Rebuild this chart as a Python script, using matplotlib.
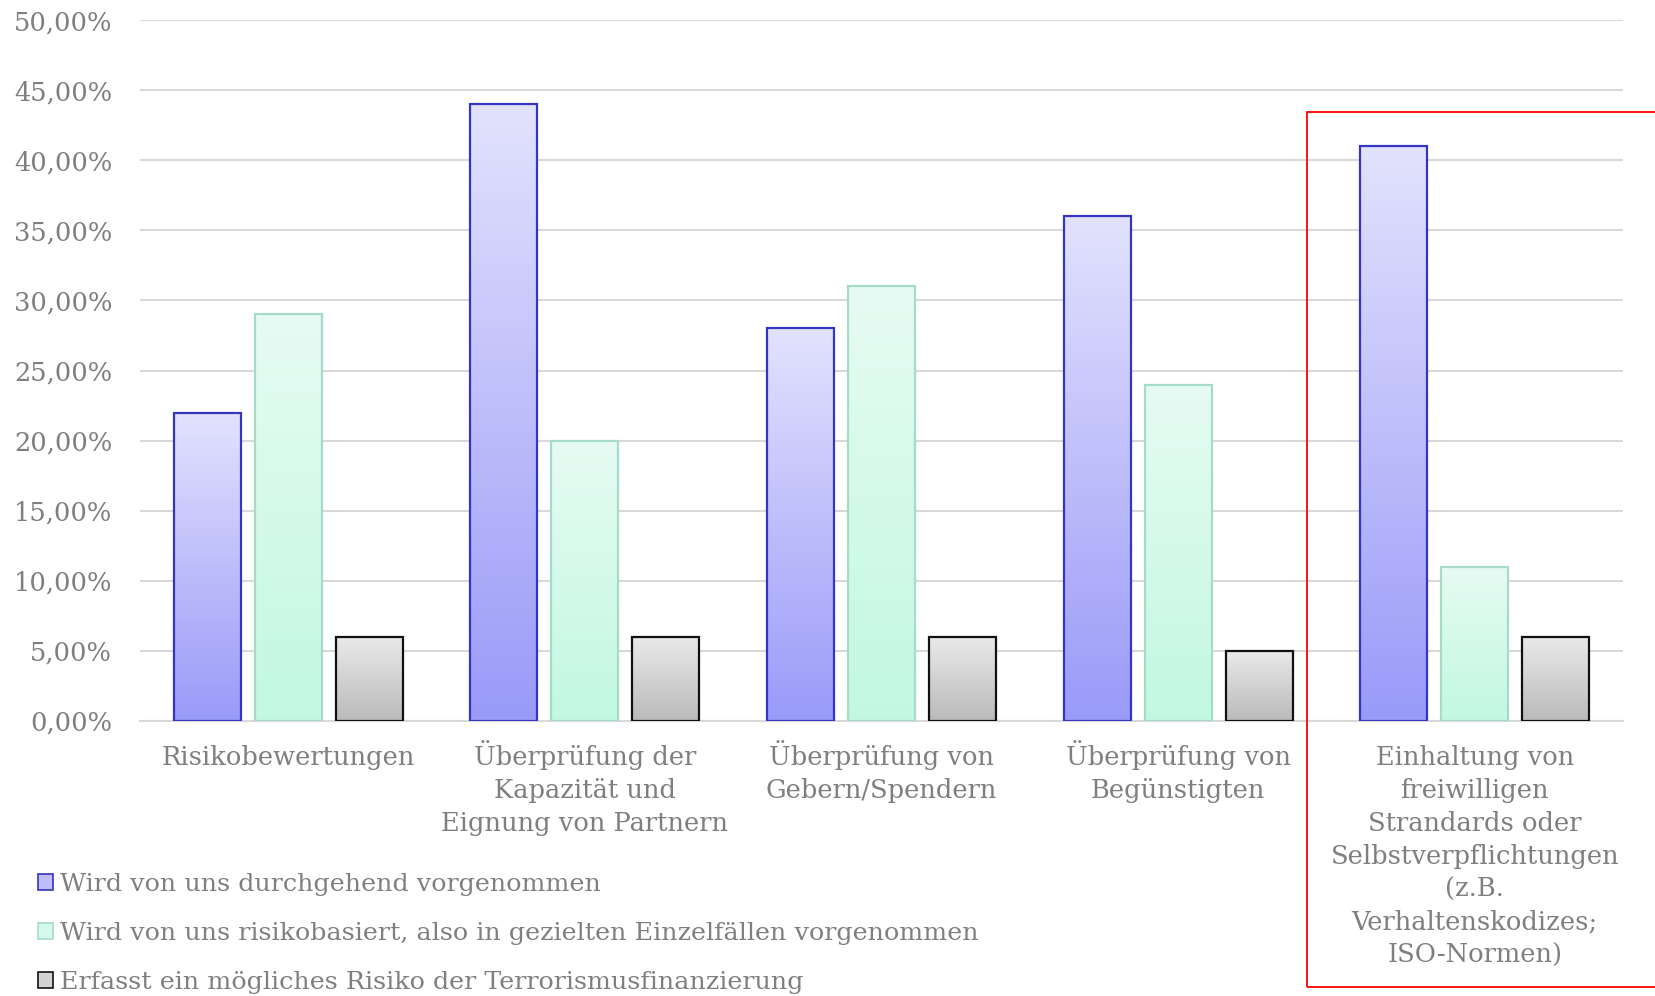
import numpy as np
import matplotlib.pyplot as plt
from matplotlib.colors import LinearSegmentedColormap, to_rgb
from matplotlib.patches import Rectangle, Patch

categories = [
    "Risikobewertungen",
    "Überprüfung der\nKapazität und\nEignung von Partnern",
    "Überprüfung von\nGebern/Spendern",
    "Überprüfung von\nBegünstigten",
    "Einhaltung von\nfreiwilligen\nStrandards oder\nSelbstverpflichtungen\n(z.B.\nVerhaltenskodizes;\nISO-Normen)",
]
durchgehend = [22, 44, 28, 36, 41]
risikobasiert = [29, 20, 31, 24, 11]
terror = [6, 6, 6, 5, 6]
series_names = [
    "Wird von uns durchgehend vorgenommen",
    "Wird von uns risikobasiert, also in gezielten Einzelfällen vorgenommen",
    "Erfasst ein mögliches Risiko der Terrorismusfinanzierung",
]
yticks = [0, 5, 10, 15, 20, 25, 30, 35, 40, 45, 50]

# (top colour, bottom colour, edge colour)
styles = [
    ("#e2e2fd", "#9a9af9", "#3535c0"),
    ("#e6fbf3", "#c2f8e2", "#a6dcc6"),
    ("#eaeaea", "#bababa", "#111111"),
]

plt.rcParams['font.family'] = ['DejaVu Serif']
txt = "#7f7f7f"
fs = 18.5

fig = plt.figure(figsize=(16.55, 9.96), dpi=100)
ax = fig.add_axes([0.0846, 0.2761, 0.8961, 0.7038])

x = np.arange(len(categories))
w = 0.226
off = 0.273
grad = np.linspace(1, 0, 256).reshape(-1, 1)
for i, vals in enumerate([durchgehend, risikobasiert, terror]):
    top, bot, edge = styles[i]
    cmap = LinearSegmentedColormap.from_list("g%d" % i, [bot, top])
    bars = ax.bar(x + (i - 1) * off, vals, w, facecolor="none", edgecolor=edge,
                  linewidth=1.6, zorder=3)
    for b in bars:
        x0, y0 = b.get_x(), b.get_y()
        im = ax.imshow(grad, cmap=cmap, extent=[x0, x0 + b.get_width(), y0, y0 + b.get_height()],
                       aspect="auto", zorder=2, vmin=0, vmax=1)
        im.set_clip_path(b)

ax.set_xlim(-0.5, len(categories) - 0.5)
ax.set_ylim(0, 50)
ax.set_yticks(yticks)
ax.set_yticklabels(["%d,00%%" % t for t in yticks])
ax.set_xticks(x)
ax.set_xticklabels([])
ax.tick_params(axis="both", length=0, labelsize=fs, labelcolor=txt)
ax.tick_params(axis="y", pad=20)

# category labels: labels starting with an umlaut capital sit a bit higher
for xi, cat in zip(x, categories):
    first = cat.split("\n")[0]
    dy = 13.4 if any(c in first for c in "ÜÄÖ") else 17.2
    ax.annotate(cat, xy=(xi, 0), xycoords=("data", "axes fraction"), xytext=(0, -dy),
                textcoords="offset points", ha="center", va="top", fontsize=fs,
                color=txt, linespacing=1.40, annotation_clip=False)

ax.grid(axis="y", color="#d9d9d9", linewidth=1.5, zorder=0)
for s in ["left", "right", "top"]:
    ax.spines[s].set_visible(False)
ax.spines["bottom"].set_color("#d9d9d9")
ax.spines["bottom"].set_linewidth(1.5)

handles = [Patch(facecolor=(np.array(to_rgb(s[0])) + np.array(to_rgb(s[1]))) / 2,
                 edgecolor=s[2], linewidth=1.2) for s in styles]
fig.legend(handles, series_names, loc="upper left", bbox_to_anchor=(0.023, 0.1235),
           frameon=False, fontsize=18.3, labelcolor=txt, handlelength=0.58, handleheight=0.58,
           handletextpad=0.27, labelspacing=1.03, borderaxespad=0, borderpad=0)

fig.add_artist(Rectangle((0.790, 0.009), 0.3, 0.8788, transform=fig.transFigure,
                         fill=False, edgecolor="#ff0000", linewidth=1.3, clip_on=True))

fig.savefig("out.png", dpi=100, facecolor="white")
